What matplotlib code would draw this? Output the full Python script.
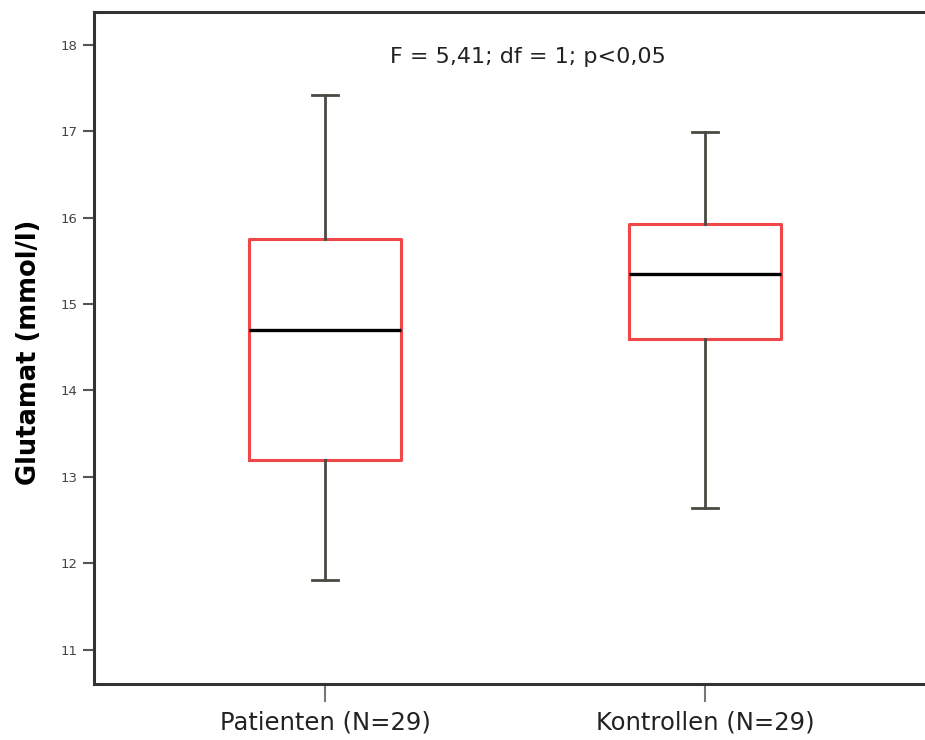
import numpy as np
import matplotlib
matplotlib.use("Agg")
import matplotlib.pyplot as plt

groups = ["Patienten (N=29)", "Kontrollen (N=29)"]
whislo = [11.81, 12.64]
q1 = [13.20, 14.60]
med = [14.70, 15.35]
q3 = [15.75, 15.93]
whishi = [17.42, 16.99]
yticks = [11, 12, 13, 14, 15, 16, 17, 18]
note = "F = 5,41; df = 1; p<0,05"

stats = []
for i in range(len(groups)):
    stats.append(dict(label=groups[i], whislo=whislo[i], q1=q1[i], med=med[i],
                      q3=q3[i], whishi=whishi[i], fliers=[]))

fig = plt.figure(figsize=(9.25, 7.4), dpi=100)
ax = fig.add_axes([94/925, 1-684/740, 1-94/925, (684-12)/740])

ax.bxp(stats, positions=[1, 2], widths=0.40, showfliers=False,
       boxprops=dict(color="#f04848", linewidth=2.2),
       medianprops=dict(color="black", linewidth=2.4),
       whiskerprops=dict(color="#4a4a42", linewidth=2.0),
       capprops=dict(color="#4a4a42", linewidth=2.0),
       capwidths=0.07)

ax.set_xlim(0.392, 2.579)
ax.set_ylim(10.603, 18.38)
ax.set_yticks(yticks)
ax.set_xticks([1, 2])
ax.set_xticklabels(groups, fontsize=17.5, color="#222222")
ax.tick_params(axis="y", labelsize=9.5, colors="#555555", length=8, width=1.5, pad=4)
ax.tick_params(axis="y", labelcolor="#444444")
ax.tick_params(axis="x", length=13, width=1.5, colors="#777777", pad=6)
ax.tick_params(axis="x", labelcolor="#222222")

for s in ["left", "bottom", "top"]:
    ax.spines[s].set_linewidth(2.2)
    ax.spines[s].set_color("#333333")
ax.spines["right"].set_visible(False)

ax.set_ylabel("Glutamat (mmol/l)", fontsize=18.5, fontweight="bold")
ax.yaxis.set_label_coords(-0.063, 0.493)
ax.text(1.535, 17.86, note, fontsize=16, ha="center", va="center", color="#222222")

fig.savefig("out.png", dpi=100)
